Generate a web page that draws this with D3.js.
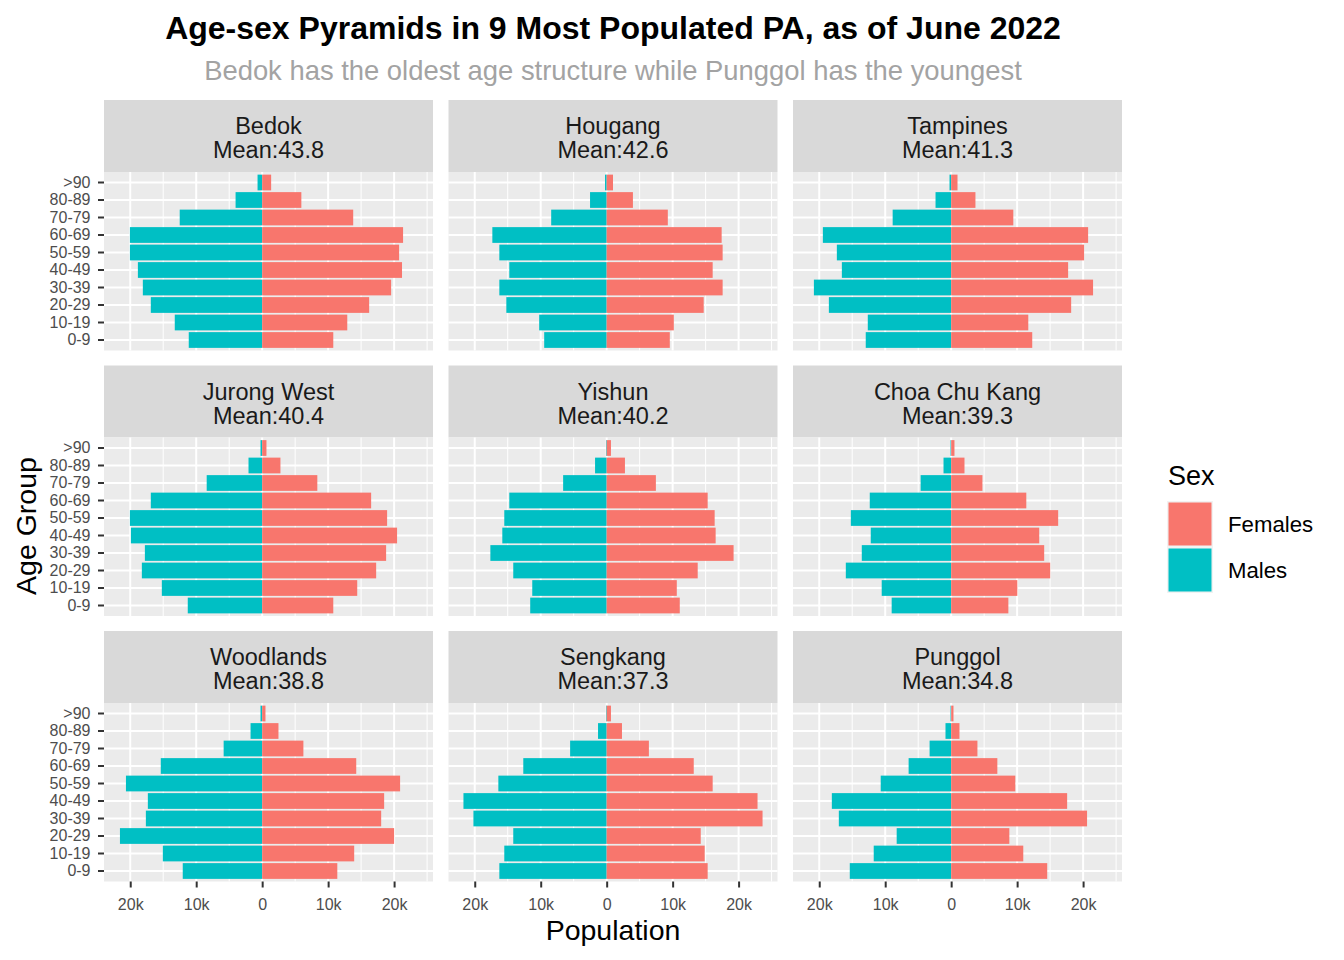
<!DOCTYPE html>
<html>
<head>
<meta charset="utf-8">
<script src="https://cdn.jsdelivr.net/npm/d3@7"></script>
<style>
  html, body { margin: 0; padding: 0; background: #ffffff; }
  svg { display: block; font-family: "Liberation Sans", Arial, sans-serif; }
</style>
</head>
<body>
<svg id="chart" width="1344" height="960"></svg>
<script>
// ---------------- DATA ----------------
const ageGroups = ["0-9", "10-19", "20-29", "30-39", "40-49", "50-59", "60-69", "70-79", "80-89", ">90"];
const areas = ["Bedok", "Hougang", "Tampines", "Jurong West", "Yishun", "Choa Chu Kang", "Woodlands", "Sengkang", "Punggol"];
const meanAges = [43.8, 42.6, 41.3, 40.4, 40.2, 39.3, 38.8, 37.3, 34.8];
const sexes = ["Females", "Males"];
const xTickValues = [-20000, -10000, 0, 10000, 20000];
const xTickLabels = ["20k", "10k", "0", "10k", "20k"];

// values per age group, 0-9 ... >90
const bedokMales          = [11130, 13250, 16880, 18090, 18840, 20050, 20050, 12500, 4030, 700];
const bedokFemales        = [10780, 12900, 16220, 19550, 21200, 20760, 21360, 13800, 5940, 1360];
const hougangMales        = [9470, 10230, 15210, 16270, 14760, 16270, 17330, 8410, 2520, 250];
const hougangFemales      = [9570, 10180, 14710, 17580, 16070, 17580, 17430, 9270, 3980, 960];
const tampinesMales       = [12950, 12640, 18540, 20810, 16570, 17330, 19450, 8870, 2370, 250];
const tampinesFemales     = [12290, 11690, 18190, 21510, 17730, 20150, 20760, 9420, 3680, 960];
const jurongWestMales     = [11280, 15210, 18240, 17780, 19900, 20050, 16880, 8410, 2070, 250];
const jurongWestFemales   = [10780, 14410, 17280, 18790, 20450, 18940, 16520, 8360, 2770, 650];
const yishunMales         = [11590, 11280, 14160, 17630, 15820, 15520, 14760, 6600, 1760, 100];
const yishunFemales       = [11080, 10630, 13800, 19240, 16520, 16370, 15310, 7460, 2770, 650];
const choaChuKangMales    = [9020, 10530, 15970, 13550, 12190, 15210, 12340, 4630, 1160, 100];
const choaChuKangFemales  = [8670, 10030, 15010, 14100, 13350, 16220, 11390, 4740, 2020, 500];
const woodlandsMales      = [12040, 15060, 21560, 17630, 17330, 20650, 15370, 5840, 1760, 250];
const woodlandsFemales    = [11390, 13950, 20000, 18040, 18490, 20910, 14260, 6250, 2470, 500];
const sengkangMales       = [16270, 15520, 14160, 20200, 21710, 16420, 12640, 5540, 1310, 100];
const sengkangFemales     = [15310, 14860, 14260, 23630, 22870, 16070, 13200, 6400, 2320, 650];
const punggolMales        = [15370, 11740, 8260, 17030, 18090, 10680, 6450, 3270, 860, 100];
const punggolFemales      = [14560, 10930, 8820, 20600, 17580, 9720, 7000, 3980, 1260, 350];

const malesByArea = [bedokMales, hougangMales, tampinesMales, jurongWestMales, yishunMales,
                     choaChuKangMales, woodlandsMales, sengkangMales, punggolMales];
const femalesByArea = [bedokFemales, hougangFemales, tampinesFemales, jurongWestFemales, yishunFemales,
                       choaChuKangFemales, woodlandsFemales, sengkangFemales, punggolFemales];

// ---------------- LAYOUT ----------------
const colors = { Females: "#F8766D", Males: "#00BFC4" };
const panelW = 329, panelH = 178.5, stripH = 72;
const left0 = 104, colStep = 344.5;
const top0 = 172, rowStep = 265.5;

const svg = d3.select("#chart");

// shared x scale (fixed scales, 5% expansion like ggplot)
const allMin = d3.min(malesByArea, a => d3.min(a, v => -v));
const allMax = d3.max(femalesByArea, a => d3.max(a));
const span = allMax - allMin;
const x = d3.scaleLinear().domain([allMin - 0.05 * span, allMax + 0.05 * span]).range([0, panelW]);
const y = d3.scaleBand().domain(ageGroups.slice().reverse()).range([0, panelH])
  .paddingInner(0.1).paddingOuter(0.15);

const dom = x.domain();
const minorTicks = d3.range(-25000, 25001, 10000).filter(v => v > dom[0] && v < dom[1]);
const majorTicks = xTickValues.filter(v => v > dom[0] && v < dom[1]);

areas.forEach((area, i) => {
  const row = Math.floor(i / 3), col = i % 3;
  const px = left0 + col * colStep;
  const py = top0 + row * rowStep;

  // strip
  svg.append("rect").attr("x", px).attr("y", py - stripH).attr("width", panelW).attr("height", stripH)
    .attr("fill", "#D9D9D9");
  const st = svg.append("text").attr("x", px + panelW / 2).attr("text-anchor", "middle")
    .attr("font-size", 23.5).attr("fill", "#1A1A1A");
  st.append("tspan").attr("x", px + panelW / 2).attr("y", py - 38).text(area);
  st.append("tspan").attr("x", px + panelW / 2).attr("y", py - 14).text("Mean:" + meanAges[i]);

  const g = svg.append("g").attr("transform", `translate(${px},${py})`);
  g.append("rect").attr("width", panelW).attr("height", panelH).attr("fill", "#EBEBEB");

  // grid
  g.selectAll(".minor").data(minorTicks).enter().append("line")
    .attr("x1", d => x(d)).attr("x2", d => x(d)).attr("y1", 0).attr("y2", panelH)
    .attr("stroke", "#ffffff").attr("stroke-width", 1);
  g.selectAll(".major").data(majorTicks).enter().append("line")
    .attr("x1", d => x(d)).attr("x2", d => x(d)).attr("y1", 0).attr("y2", panelH)
    .attr("stroke", "#ffffff").attr("stroke-width", 2);
  g.selectAll(".hgrid").data(ageGroups).enter().append("line")
    .attr("x1", 0).attr("x2", panelW)
    .attr("y1", d => y(d) + y.bandwidth() / 2).attr("y2", d => y(d) + y.bandwidth() / 2)
    .attr("stroke", "#ffffff").attr("stroke-width", 2);

  // bars
  const males = malesByArea[i], females = femalesByArea[i];
  g.selectAll(".m").data(ageGroups).enter().append("rect")
    .attr("x", (d, k) => x(-males[k])).attr("width", (d, k) => x(0) - x(-males[k]))
    .attr("y", d => y(d)).attr("height", y.bandwidth()).attr("fill", colors.Males);
  g.selectAll(".f").data(ageGroups).enter().append("rect")
    .attr("x", x(0)).attr("width", (d, k) => x(females[k]) - x(0))
    .attr("y", d => y(d)).attr("height", y.bandwidth()).attr("fill", colors.Females);

  // axes
  if (col === 0) {
    const ay = g.append("g").call(d3.axisLeft(y).tickSize(6).tickPadding(7.5));
    ay.select(".domain").remove();
    ay.selectAll("line").attr("stroke", "#333333").attr("stroke-width", 2);
    ay.selectAll("text").attr("fill", "#4D4D4D").attr("font-size", 16)
      .attr("font-family", "Liberation Sans, Arial, sans-serif");
  }
  if (row === 2) {
    const ax = g.append("g").attr("transform", `translate(0,${panelH})`)
      .call(d3.axisBottom(x).tickValues(xTickValues)
        .tickFormat((d, k) => xTickLabels[k]).tickSize(6).tickPadding(11));
    ax.select(".domain").remove();
    ax.selectAll("line").attr("stroke", "#333333").attr("stroke-width", 2);
    ax.selectAll("text").attr("fill", "#4D4D4D").attr("font-size", 16)
      .attr("font-family", "Liberation Sans, Arial, sans-serif");
  }
});

// titles
const plotCenter = left0 + (2 * colStep + panelW) / 2;
svg.append("text").attr("x", plotCenter).attr("y", 39).attr("text-anchor", "middle")
  .attr("font-size", 32).attr("font-weight", "bold").attr("fill", "#000000")
  .text("Age-sex Pyramids in 9 Most Populated PA, as of June 2022");
svg.append("text").attr("x", plotCenter).attr("y", 80).attr("text-anchor", "middle")
  .attr("font-size", 27.4).attr("fill", "#A3A3A3")
  .text("Bedok has the oldest age structure while Punggol has the youngest");
svg.append("text").attr("x", plotCenter).attr("y", 940).attr("text-anchor", "middle")
  .attr("font-size", 28.5).attr("fill", "#000000").text("Population");
svg.append("text").attr("transform", "translate(36,526) rotate(-90)").attr("text-anchor", "middle")
  .attr("font-size", 28.5).attr("fill", "#000000").text("Age Group");

// legend
const lg = svg.append("g").attr("transform", "translate(1167,0)");
lg.append("text").attr("x", 1).attr("y", 485).attr("font-size", 27).attr("fill", "#000000").text("Sex");
sexes.forEach((s, k) => {
  const ky = 501 + k * 46;
  lg.append("rect").attr("x", 0).attr("y", ky).attr("width", 46).attr("height", 46).attr("fill", "#F2F2F2");
  lg.append("rect").attr("x", 1.5).attr("y", ky + 1.5).attr("width", 43).attr("height", 43).attr("fill", colors[s]);
  lg.append("text").attr("x", 61).attr("y", ky + 23).attr("dy", "0.36em").attr("font-size", 22.2)
    .attr("fill", "#000000").text(s);
});
</script>
</body>
</html>
